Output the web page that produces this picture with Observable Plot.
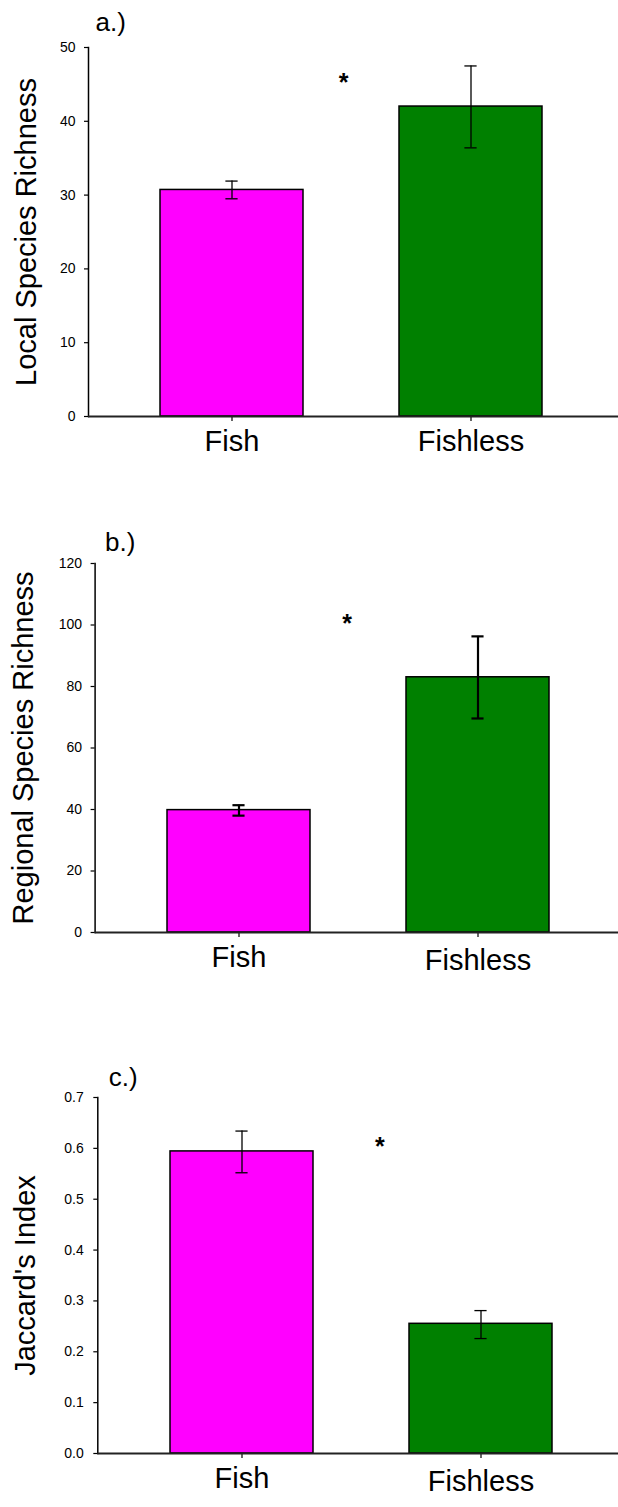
<!DOCTYPE html>
<html>
<head>
<meta charset="utf-8">
<script src="https://cdn.jsdelivr.net/npm/d3@7"></script>
<script src="https://cdn.jsdelivr.net/npm/@observablehq/plot@0.6"></script>
<style>
  html, body { margin: 0; padding: 0; background: #fff; overflow: hidden; }
  #chart svg { display: block; }
</style>
</head>
<body>
<div id="chart"></div>
<script>
// ---- data ----
const categories = ["Fish", "Fishless"];
const barColors = ["#ff00ff", "#008000"];

const localMean = [30.7, 42.0];
const localLo   = [29.5, 36.4];
const localHi   = [31.9, 47.5];

const regionalMean = [39.8, 83.0];
const regionalLo   = [38.0, 69.6];
const regionalHi   = [41.4, 96.3];

const jaccardMean = [0.594, 0.255];
const jaccardLo   = [0.552, 0.226];
const jaccardHi   = [0.634, 0.281];

const localTicks    = [0, 10, 20, 30, 40, 50];
const regionalTicks = [0, 20, 40, 60, 80, 100, 120];
const jaccardTicks  = [0, 0.1, 0.2, 0.3, 0.4, 0.5, 0.6, 0.7];

const panelLabels = ["a.)", "b.)", "c.)"];
const yTitles = ["Local Species Richness", "Regional Species Richness", "Jaccard's Index"];
const starY = [46.1, 102.6, 0.616];

// ---- layout / styles (not data) ----
const FONT = "'Liberation Sans', Arial, Helvetica, sans-serif";
const W = 618;

const panels = [
  {mean: localMean, lo: localLo, hi: localHi, ticks: localTicks, fmt: d3.format("d"),
   domain: [0, 50], height: 470, mt: 47, mb: 54, ml: 88, step: 239.6,
   errW: 1.3, labelDx: 7, labelDy: -17, titleDx: -53, starDx: 255, tickPad: 9, secondDy: 0},
  {mean: regionalMean, lo: regionalLo, hi: regionalHi, ticks: regionalTicks, fmt: d3.format("d"),
   domain: [0, 120], height: 505, mt: 93, mb: 43, ml: 94.6, step: 239.8,
   errW: 2.2, labelDx: 10, labelDy: -13, titleDx: -62, starDx: 252, tickPad: 9, secondDy: 3},
  {mean: jaccardMean, lo: jaccardLo, hi: jaccardHi, ticks: jaccardTicks, fmt: d3.format(".1f"),
   domain: [0, 0.7], height: 532, mt: 122, mb: 54, ml: 97.3, step: 239.7,
   errW: 1.3, labelDx: 11, labelDy: -12, titleDx: -63, starDx: 282, tickPad: 10, secondDy: 3}
];

const container = document.getElementById("chart");

panels.forEach((p, i) => {
  const rows = categories.map((c, j) => ({cat: c, mean: p.mean[j], lo: p.lo[j], hi: p.hi[j], color: barColors[j]}));
  const bw = p.step * 0.6;
  const capInset = (bw - 13) / 2;
  const svg = Plot.plot({
    width: W,
    height: p.height,
    marginTop: p.mt,
    marginBottom: p.mb,
    marginLeft: p.ml,
    marginRight: 0,
    style: {fontFamily: FONT, background: "#fff", color: "#000", overflow: "visible"},
    x: {domain: categories, range: [p.ml, p.ml + p.step * 2.2], paddingInner: 0.4, paddingOuter: 0.3, align: 0.5},
    y: {domain: p.domain},
    marks: [
      Plot.barY(rows, {x: "cat", y: "mean", fill: "color", stroke: "#000", strokeWidth: 1.5}),
      Plot.ruleX(rows, {x: "cat", y1: "lo", y2: "hi", stroke: "#000", strokeWidth: p.errW}),
      Plot.tickY(rows, {x: "cat", y: "hi", stroke: "#000", strokeWidth: p.errW, insetLeft: capInset, insetRight: capInset}),
      Plot.tickY(rows, {x: "cat", y: "lo", stroke: "#000", strokeWidth: p.errW, insetLeft: capInset, insetRight: capInset}),
      Plot.axisY({ticks: p.ticks, tickFormat: p.fmt, tickSize: 4, tickPadding: p.tickPad, fontSize: 14, label: null, stroke: "#000", strokeWidth: 1.2}),
      Plot.axisX({tickSize: 5, tickFormat: null, text: null, stroke: "#000", strokeWidth: 1.2, label: null}),
      Plot.text(rows.slice(0, 1), {x: "cat", text: "cat", frameAnchor: "bottom", dy: 14, lineAnchor: "top", fontSize: 29, fill: "#000"}),
      Plot.text(rows.slice(1), {x: "cat", text: "cat", frameAnchor: "bottom", dy: 14 + p.secondDy, lineAnchor: "top", fontSize: 29, fill: "#000"}),
      Plot.frame({anchor: "left", stroke: "#000", strokeWidth: 1.5}),
      Plot.ruleY([0], {stroke: "#222", strokeWidth: 2}),
      Plot.text([yTitles[i]], {frameAnchor: "left", dx: p.titleDx, rotate: -90, textAnchor: "middle", lineAnchor: "bottom", fontSize: 29, fill: "#000"}),
      Plot.text([panelLabels[i]], {frameAnchor: "top-left", dx: p.labelDx, dy: p.labelDy, textAnchor: "start", lineAnchor: "bottom", fontSize: 26, fill: "#000"}),
      Plot.text([starY[i]], {y: d => d, frameAnchor: "left", dx: p.starDx, dy: 7, text: () => "*", textAnchor: "middle", lineAnchor: "middle", fontSize: 25, fontWeight: "bold", fill: "#000"})
    ]
  });
  container.appendChild(svg);
});
</script>
</body>
</html>
